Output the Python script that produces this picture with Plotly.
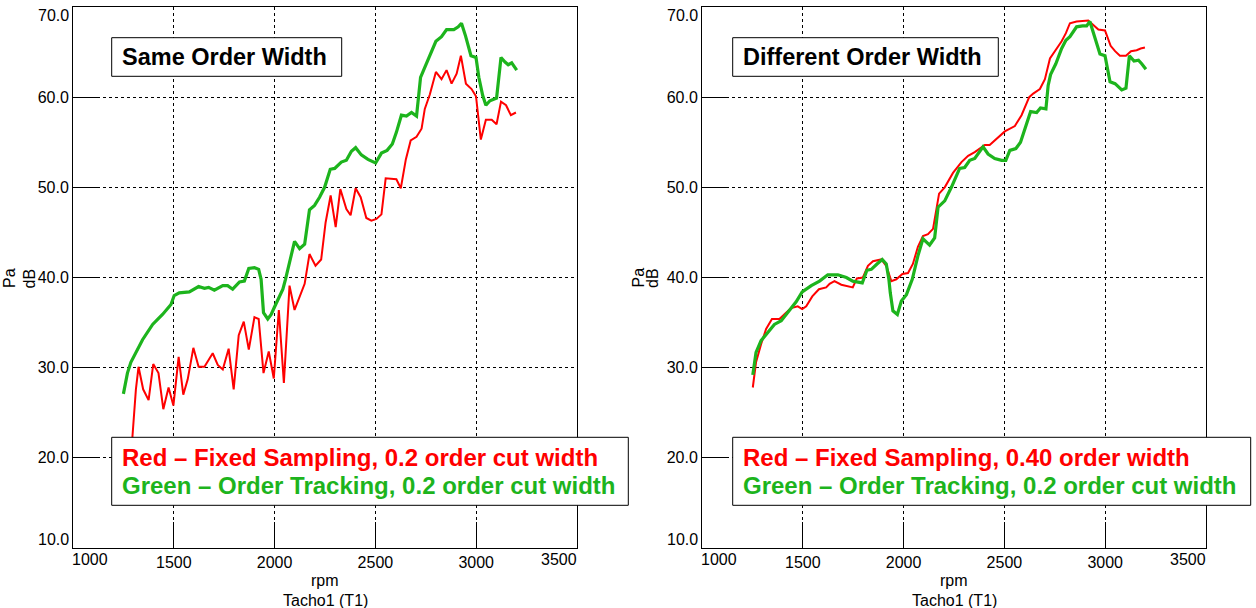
import plotly.graph_objects as go

# ---------------- data ----------------
left_green_rpm = [1250, 1270, 1287, 1345, 1395, 1444, 1486, 1502, 1527, 1577, 1623, 1652, 1673, 1701, 1743,
                  1767, 1792, 1826, 1850, 1872, 1900, 1921, 1933, 1945, 1966, 1983, 1999, 2024, 2041, 2054,
                  2074, 2099, 2124, 2149, 2173, 2198, 2223, 2248, 2276, 2298, 2331, 2356, 2381, 2402, 2430,
                  2463, 2501, 2530, 2558, 2584, 2604, 2629, 2654, 2679, 2704, 2724, 2745, 2770, 2800, 2828,
                  2853, 2889, 2911, 2927, 2947, 2974, 2999, 3013, 3032, 3048, 3068, 3101, 3123, 3143, 3159,
                  3176, 3201]
left_green_db = [27.1, 29.4, 30.6, 33.1, 34.8, 35.9, 37.0, 38.0, 38.3, 38.4, 39.0, 38.8, 38.9, 38.6, 39.1,
                 39.1, 38.7, 39.5, 39.6, 41.0, 41.1, 40.9, 39.8, 36.1, 35.4, 35.9, 36.7, 37.8, 38.7, 39.8,
                 41.7, 44.0, 43.2, 43.7, 47.5, 48.0, 48.9, 50.0, 52.0, 52.1, 52.8, 53.0, 54.0, 54.4, 53.6,
                 53.1, 52.7, 53.8, 54.1, 54.8, 56.1, 58.0, 57.9, 58.3, 57.9, 62.2, 63.3, 64.6, 66.2, 66.7,
                 67.5, 67.5, 67.8, 68.2, 66.8, 64.6, 64.4, 62.2, 60.2, 59.1, 59.6, 59.9, 64.4, 63.9, 63.6,
                 63.8, 63.0]

left_red_rpm = [1287, 1295, 1312, 1325, 1348, 1375, 1398, 1424, 1448, 1474, 1498, 1524, 1547, 1569, 1597,
                1623, 1652, 1693, 1718, 1743, 1772, 1797, 1822, 1847, 1872, 1900, 1921, 1945, 1971, 1996,
                2021, 2046, 2074, 2099, 2149, 2173, 2203, 2231, 2253, 2278, 2303, 2326, 2356, 2377, 2402,
                2427, 2455, 2480, 2505, 2530, 2551, 2580, 2604, 2626, 2651, 2675, 2704, 2729, 2745, 2770,
                2800, 2828, 2853, 2878, 2903, 2924, 2949, 2977, 2999, 3023, 3048, 3077, 3101, 3123, 3148,
                3172, 3197]
left_red_db = [19.0, 22.4, 27.6, 30.1, 27.6, 26.4, 30.4, 29.4, 25.4, 27.8, 25.8, 31.2, 27.0, 28.7, 32.2,
               30.1, 30.1, 31.6, 30.3, 29.8, 32.1, 27.6, 33.6, 35.1, 32.0, 35.6, 35.4, 29.4, 31.8, 28.8,
               36.4, 28.3, 39.1, 36.4, 39.3, 42.6, 41.3, 42.0, 46.1, 49.1, 45.6, 49.8, 47.6, 46.9, 49.9,
               48.9, 46.6, 46.3, 46.5, 47.0, 51.0, 50.9, 50.9, 49.9, 53.1, 55.2, 55.6, 56.5, 58.7, 60.3,
               62.8, 62.0, 63.0, 61.5, 62.6, 64.6, 61.5, 60.9, 60.1, 55.3, 57.5, 57.5, 57.0, 59.5, 59.1,
               58.0, 58.3]

right_green_rpm = [1252, 1268, 1293, 1326, 1359, 1393, 1425, 1467, 1497, 1542, 1583, 1624, 1674, 1716, 1748,
                   1795, 1818, 1840, 1868, 1894, 1914, 1927, 1934, 1947, 1969, 1989, 2014, 2043, 2071, 2096,
                   2129, 2154, 2171, 2204, 2237, 2278, 2303, 2328, 2353, 2374, 2394, 2419, 2452, 2486, 2507,
                   2527, 2557, 2580, 2601, 2630, 2660, 2679, 2706, 2717, 2729, 2755, 2784, 2805, 2825, 2858,
                   2888, 2908, 2924, 2949, 2974, 2999, 3024, 3049, 3082, 3103, 3120, 3143, 3165, 3181, 3202]
right_green_db = [29.2, 31.7, 33.0, 33.9, 34.8, 35.2, 36.1, 37.3, 38.4, 39.1, 39.6, 40.3, 40.3, 40.0, 39.6,
                  39.4, 40.8, 40.9, 41.5, 42.0, 41.5, 39.8, 38.3, 36.3, 35.9, 37.4, 38.1, 39.8, 42.4, 44.3,
                  43.6, 44.4, 47.8, 48.5, 50.0, 52.1, 52.2, 53.0, 53.2, 53.9, 54.5, 53.7, 53.2, 53.0, 53.0,
                  54.1, 54.3, 55.0, 56.5, 58.4, 58.3, 58.8, 58.7, 61.3, 62.5, 63.7, 65.4, 66.3, 66.7, 67.8,
                  67.9, 67.9, 68.4, 66.7, 64.8, 64.6, 61.7, 61.5, 60.8, 61.0, 64.6, 64.0, 64.1, 63.7, 63.1]

right_red_rpm = [1252, 1260, 1268, 1293, 1318, 1347, 1384, 1417, 1442, 1475, 1497, 1517, 1547, 1580, 1616,
                 1633, 1657, 1691, 1724, 1748, 1768, 1798, 1823, 1848, 1889, 1914, 1939, 1964, 1994, 2022,
                 2046, 2071, 2096, 2121, 2146, 2159, 2176, 2204, 2245, 2287, 2320, 2353, 2378, 2403, 2427,
                 2460, 2502, 2552, 2585, 2623, 2643, 2676, 2701, 2726, 2759, 2784, 2805, 2825, 2858, 2916,
                 2941, 2966, 2999, 3027, 3049, 3073, 3103, 3128, 3156, 3176, 3197]
right_red_db = [27.8, 29.1, 30.6, 32.6, 34.3, 35.4, 35.4, 36.1, 36.6, 36.8, 36.5, 36.8, 37.9, 38.7, 38.9,
                39.3, 39.6, 39.2, 39.0, 38.9, 39.9, 40.0, 41.3, 41.8, 42.0, 41.3, 39.6, 39.8, 40.4, 40.5,
                41.5, 43.4, 44.6, 44.8, 45.4, 47.2, 49.3, 50.0, 51.6, 52.8, 53.5, 53.9, 54.3, 54.7, 54.7,
                55.4, 56.2, 56.8, 58.0, 60.0, 60.4, 60.9, 62.0, 64.3, 65.4, 66.2, 67.1, 68.2, 68.4, 68.5,
                68.0, 67.5, 67.4, 65.7, 65.1, 64.6, 64.6, 65.1, 65.2, 65.4, 65.5]

x_ticks = [1000, 1500, 2000, 2500, 3000, 3500]
y_ticks = [10, 20, 30, 40, 50, 60, 70]

titles = ["Same Order Width", "Different Order Width"]
legend_red = ["Red \u2013 Fixed Sampling, 0.2 order cut width",
              "Red \u2013 Fixed Sampling, 0.40 order width"]
legend_green = ["Green \u2013 Order Tracking, 0.2 order cut width",
                "Green \u2013 Order Tracking, 0.2 order cut width"]

# ---------------- styling ----------------
W, H = 1256, 608
RED = "#FF0000"
GREEN = "#1DB41D"
FONT = "Liberation Sans, Arial, sans-serif"


def px_x(p):
    return p / W


def px_y(p):
    return 1 - p / H


fig = go.Figure()
series = [
    (left_green_rpm, left_green_db, GREEN, 3.2, "x", "y"),
    (left_red_rpm, left_red_db, RED, 2, "x", "y"),
    (right_green_rpm, right_green_db, GREEN, 3.2, "x2", "y2"),
    (right_red_rpm, right_red_db, RED, 2, "x2", "y2"),
]
for xs, ys, col, lw, xa, ya in [series[0], series[1], series[3], series[2]]:
    fig.add_trace(go.Scatter(x=xs, y=ys, mode="lines", line=dict(color=col, width=lw),
                             xaxis=xa, yaxis=ya, hoverinfo="skip"))

common = dict(showline=True, linecolor="black", linewidth=1, mirror=True,
              ticks="inside", ticklen=26, tickcolor="black", tickwidth=1,
              showgrid=True, gridcolor="black", gridwidth=1, griddash="3px,3px",
              zeroline=False, tickfont=dict(family=FONT, size=16, color="black"))

ydom = [px_y(548), px_y(7)]
fig.update_layout(
    width=W, height=H, margin=dict(l=0, r=0, t=0, b=0),
    paper_bgcolor="white", plot_bgcolor="white", showlegend=False,
    font=dict(family=FONT, color="black"),
    xaxis=dict(domain=[px_x(73), px_x(577)], range=[x_ticks[0], x_ticks[-1]],
               tickvals=x_ticks[1:-1], anchor="y", **common),
    yaxis=dict(domain=ydom, range=[y_ticks[0], y_ticks[-1]], tickvals=y_ticks[1:-1],
               tickformat=".1f", anchor="x", **common),
    xaxis2=dict(domain=[px_x(702), px_x(1206)], range=[x_ticks[0], x_ticks[-1]],
                tickvals=x_ticks[1:-1], anchor="y2", **common),
    yaxis2=dict(domain=ydom, range=[y_ticks[0], y_ticks[-1]], tickvals=y_ticks[1:-1],
                tickformat=".1f", anchor="x2", **common),
)

shapes = []
annotations = []
panels = [
    ("", (111.7, 37.7, 341.7, 76.3), (111.7, 437.3, 628.3, 505.3), 120.0, 9, 28.5, 325),
    ("2", (732.7, 37.7, 998.3, 76.3), (732.7, 437.3, 1250.7, 505.3), 741.0, 637.5, 652, 954),
]
for i, (sfx, tb, lb, tx, pa_x, db_x, cx) in enumerate(panels):
    for (x0, y0, x1, y1) in (tb, lb):
        shapes.append(dict(type="rect", xref="paper", yref="paper",
                           x0=px_x(x0), x1=px_x(x1), y0=px_y(y1), y1=px_y(y0),
                           fillcolor="white", line=dict(color="black", width=1), layer="above"))
    annotations.append(dict(text=titles[i], xref="paper", yref="paper", x=px_x(tx), y=px_y(57),
                            xanchor="left", yanchor="middle", showarrow=False,
                            font=dict(family=FONT, size=23.5, color="black", weight="bold")))
    annotations.append(dict(text=legend_red[i], xref="paper", yref="paper", x=px_x(tx), y=px_y(457),
                            xanchor="left", yanchor="middle", showarrow=False,
                            font=dict(family=FONT, size=24, color=RED, weight="bold")))
    annotations.append(dict(text=legend_green[i], xref="paper", yref="paper", x=px_x(tx), y=px_y(485.5),
                            xanchor="left", yanchor="middle", showarrow=False,
                            font=dict(family=FONT, size=24, color=GREEN, weight="bold")))
    for txt, xx in (("Pa", pa_x), ("dB", db_x)):
        annotations.append(dict(text=txt, xref="paper", yref="paper", x=px_x(xx), y=px_y(278),
                                xanchor="center", yanchor="middle", textangle=-90, showarrow=False,
                                font=dict(family=FONT, size=16, color="black")))
    annotations.append(dict(text="rpm", xref="paper", yref="paper", x=px_x(cx), y=px_y(580),
                            xanchor="center", yanchor="middle", showarrow=False,
                            font=dict(family=FONT, size=16, color="black")))
    annotations.append(dict(text="Tacho1 (T1)", xref="paper", yref="paper", x=px_x(cx), y=px_y(600),
                            xanchor="center", yanchor="middle", showarrow=False,
                            font=dict(family=FONT, size=16, color="black")))
    xr, yr = "x" + sfx, "y" + sfx
    annotations.append(dict(text=f"{y_ticks[-1]:.1f}", xref=xr + " domain", yref=yr, x=0, y=y_ticks[-1],
                            xanchor="right", yanchor="middle", xshift=-2, yshift=-9, showarrow=False,
                            font=dict(family=FONT, size=16, color="black")))
    annotations.append(dict(text=f"{y_ticks[0]:.1f}", xref=xr + " domain", yref=yr, x=0, y=y_ticks[0],
                            xanchor="right", yanchor="middle", xshift=-2, yshift=9, showarrow=False,
                            font=dict(family=FONT, size=16, color="black")))
    annotations.append(dict(text=str(x_ticks[0]), xref=xr, yref="paper", x=x_ticks[0], y=px_y(559.5),
                            xanchor="center", yanchor="middle", xshift=17, showarrow=False,
                            font=dict(family=FONT, size=16, color="black")))
    annotations.append(dict(text=str(x_ticks[-1]), xref=xr, yref="paper", x=x_ticks[-1], y=px_y(559.5),
                            xanchor="center", yanchor="middle", xshift=-18, showarrow=False,
                            font=dict(family=FONT, size=16, color="black")))

fig.update_layout(shapes=shapes, annotations=annotations)
fig.write_html("out.html")
